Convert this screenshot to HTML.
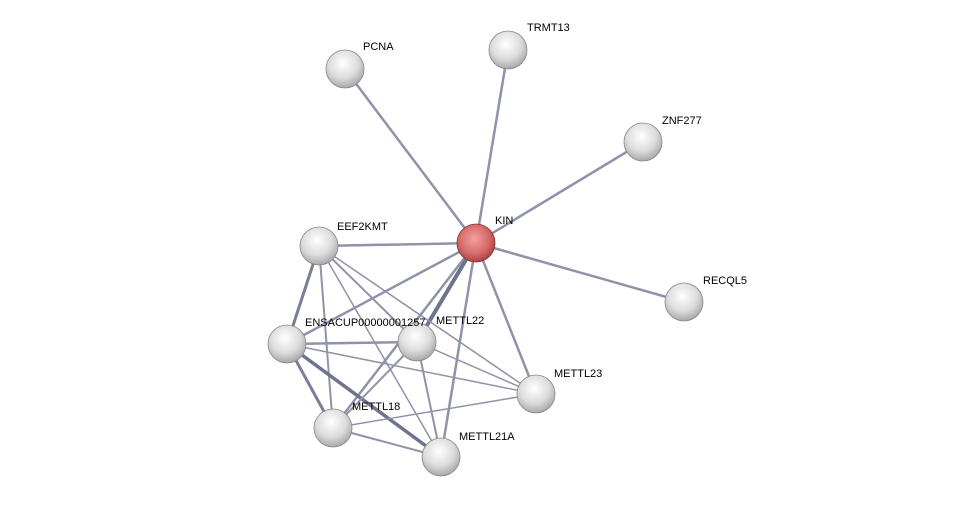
<!DOCTYPE html>
<html><head><style>
body{margin:0;background:#fff;}
svg text{font-family:"Liberation Sans",sans-serif;font-size:11px;fill:#000;}
</style></head><body>
<svg width="976" height="503" xmlns="http://www.w3.org/2000/svg">
<defs>
<radialGradient id="g" cx="45%" cy="35%" r="65%">
<stop offset="0" stop-color="#ffffff"/><stop offset="0.6" stop-color="#dcdcdc"/><stop offset="1" stop-color="#a8a8a8"/>
</radialGradient>
<radialGradient id="r" cx="45%" cy="40%" r="65%">
<stop offset="0" stop-color="#f4a0a0"/><stop offset="0.6" stop-color="#d66a6a"/><stop offset="1" stop-color="#a03a3a"/>
</radialGradient>
</defs>
<g stroke="#8f93aa" stroke-width="2.5" fill="none">
<line x1="476" y1="243" x2="345" y2="69"/>
<line x1="476" y1="243" x2="508" y2="50"/>
<line x1="476" y1="243" x2="643" y2="142"/>
<line x1="476" y1="243" x2="684" y2="302"/>
<line x1="476" y1="243" x2="319" y2="246"/>
<line x1="476" y1="243" x2="287" y2="344"/>
<line x1="476" y1="243" x2="536" y2="394"/>
<line x1="476" y1="243" x2="441" y2="457"/>
<line x1="476" y1="243" x2="333" y2="428"/>
<line x1="476" y1="243" x2="417" y2="342" stroke="#6e7390" stroke-width="4"/>
<line x1="319" y1="246" x2="287" y2="344" stroke="#7a7f98" stroke-width="3"/>
<line x1="319" y1="246" x2="333" y2="428" stroke-width="2"/>
<line x1="319" y1="246" x2="417" y2="342" stroke-width="2"/>
<line x1="319" y1="246" x2="536" y2="394" stroke-width="1.5"/>
<line x1="319" y1="246" x2="441" y2="457" stroke-width="1.5"/>
<line x1="287" y1="344" x2="417" y2="342" stroke-width="2.5"/>
<line x1="287" y1="344" x2="536" y2="394" stroke-width="1.5"/>
<line x1="287" y1="344" x2="441" y2="457" stroke="#6e7390" stroke-width="3.5"/>
<line x1="287" y1="344" x2="333" y2="428" stroke="#7a7f98" stroke-width="3"/>
<line x1="417" y1="342" x2="333" y2="428" stroke-width="2"/>
<line x1="417" y1="342" x2="441" y2="457" stroke-width="2"/>
<line x1="417" y1="342" x2="536" y2="394" stroke-width="1.5"/>
<line x1="333" y1="428" x2="536" y2="394" stroke-width="1.5"/>
<line x1="333" y1="428" x2="441" y2="457" stroke-width="2"/>
</g>
<g stroke="#888" stroke-width="0.8">
<circle cx="345" cy="69" r="19" fill="url(#g)"/>
<circle cx="508" cy="50" r="19" fill="url(#g)"/>
<circle cx="643" cy="142" r="19" fill="url(#g)"/>
<circle cx="684" cy="302" r="19" fill="url(#g)"/>
<circle cx="319" cy="246" r="19" fill="url(#g)"/>
<circle cx="287" cy="344" r="19" fill="url(#g)"/>
<circle cx="417" cy="342" r="19" fill="url(#g)"/>
<circle cx="536" cy="394" r="19" fill="url(#g)"/>
<circle cx="333" cy="428" r="19" fill="url(#g)"/>
<circle cx="441" cy="457" r="19" fill="url(#g)"/>
<circle cx="476" cy="243" r="19" fill="url(#r)" stroke="#8a3030"/>
</g>
<text x="363" y="50">PCNA</text>
<text x="527" y="31">TRMT13</text>
<text x="662" y="124">ZNF277</text>
<text x="495" y="224">KIN</text>
<text x="703" y="284">RECQL5</text>
<text x="337" y="230">EEF2KMT</text>
<text x="305" y="326">ENSACUP00000001257</text>
<text x="436" y="324">METTL22</text>
<text x="554" y="377">METTL23</text>
<text x="352" y="410">METTL18</text>
<text x="459" y="440">METTL21A</text>
</svg>
</body></html>
